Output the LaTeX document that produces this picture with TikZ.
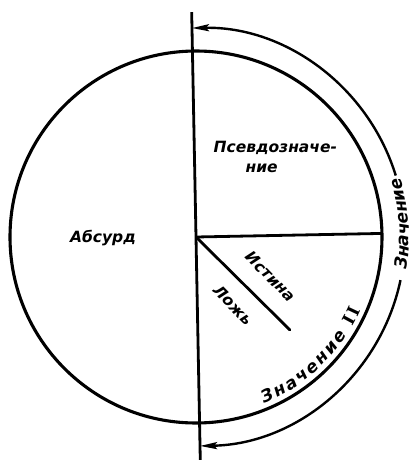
\documentclass[tikz,border=0pt]{standalone}
\usepackage{fontspec}
\setmainfont{DejaVu Sans}
\newfontfamily\romfont{DejaVu Serif}
\usetikzlibrary{arrows.meta,decorations.text}
\newcommand\alongfont{\fontsize{17}{19}\selectfont\bfseries\itshape}
\newcommand\romanfont{\romfont\fontsize{17}{19}\selectfont\bfseries}
\begin{document}
\begin{tikzpicture}[x=1pt,y=1pt,
  heavy/.style={line width=3.1pt},
  rule/.style={line width=2.8pt},
  track/.style={line width=2.4pt},
  tipped/.style={track,-{Stealth[length=17pt,width=7pt,inset=3pt]}},
  lbl/.style={font=\fontsize{15.5}{17}\selectfont\bfseries\itshape, inner sep=0pt}]
\useasboundingbox (-196,-224) rectangle (218,237);
\begin{scope}[rotate=1.1]
\coordinate (C) at (0,0);
\coordinate (T) at (0,225);
\coordinate (B) at (0,-223);
\coordinate (E) at (0:186);
\coordinate (D) at (-45.8:132);
\draw[heavy] (C) circle[radius=186];
\draw[rule] (T) -- (B);
\draw[rule] (C) -- (E);
\draw[rule, line cap=round] (C) -- (D);
\draw[tipped] (16:209) arc[start angle=16,end angle=90,radius=209];
\draw[tipped] (-13:209) arc[start angle=-13,end angle=-90,radius=209];
\node[lbl] (absurd) at (-93,1) {Абсурд};
\node[lbl] (pseudo1) at (81,88) {Псевдозначе-};
\node[lbl] (pseudo2) at (67,67) {ние};
\node[lbl, rotate=-45.8] (truth) at (74,-41) {Истина};
\node[lbl, rotate=-45.8] (lie) at (36,-69) {Ложь};
\path[decorate, decoration={text along path,
   text={|\alongfont|Значение |\romanfont|I}, text align={fit to path}}]
   (-10:213) arc[start angle=-10,end angle=14,radius=213];
\path[decorate, decoration={text along path,
   text={|\alongfont|Значение |\romanfont|II}, text align={fit to path}}]
   (-69:180) arc[start angle=-69,end angle=-25,radius=180];
\end{scope}
\end{tikzpicture}
\end{document}
